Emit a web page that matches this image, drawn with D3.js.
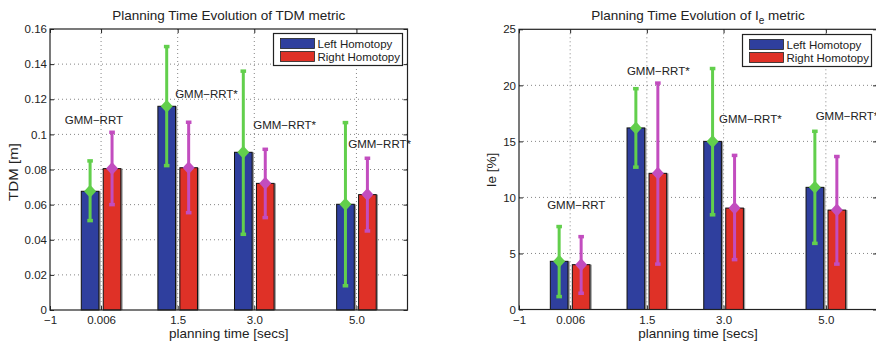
<!DOCTYPE html>
<html>
<head>
<meta charset="utf-8">
<script src="https://cdn.jsdelivr.net/npm/d3@7"></script>
<style>
body { margin: 0; background: #fff; }
text { font-family: "Liberation Sans", Arial, Helvetica, sans-serif; fill: #222; }
</style>
</head>
<body>
<div id="chart"></div>
<script>
var svgWidth = 876;
var svgHeight = 345;

// planning time groups
var groupPos = [0, 1.5, 3, 5];
var xTickVals = [-1, 0, 1.5, 3, 5];
var xTickLabels = ["\u22121", "0.006", "1.5", "3.0", "5.0"];
var seriesNames = ["Left Homotopy", "Right Homotopy"];

// TDM metric [m]
var tdmLeft = [0.0676, 0.116, 0.0898, 0.0602];
var tdmLeftLo = [0.0509, 0.0822, 0.0431, 0.0138];
var tdmLeftHi = [0.0849, 0.150, 0.136, 0.1067];
var tdmRight = [0.0805, 0.081, 0.0721, 0.0657];
var tdmRightLo = [0.060, 0.0554, 0.0526, 0.045];
var tdmRightHi = [0.1012, 0.1069, 0.0915, 0.0864];
var tdmTicks = [0, 0.02, 0.04, 0.06, 0.08, 0.1, 0.12, 0.14, 0.16];

// Ie metric [%]
var ieLeft = [4.3, 16.2, 15.0, 10.9];
var ieLeftLo = [1.15, 12.7, 8.45, 5.9];
var ieLeftHi = [7.4, 19.7, 21.5, 15.9];
var ieRight = [4.0, 12.15, 9.05, 8.87];
var ieRightLo = [1.45, 4.05, 4.45, 4.05];
var ieRightHi = [6.5, 20.2, 13.75, 13.65];
var ieTicks = [0, 5, 10, 15, 20, 25];

// text annotations (data coordinates)
var annoText = ["GMM\u2212RRT", "GMM\u2212RRT*", "GMM\u2212RRT*", "GMM\u2212RRT*"];
var tdmAnnoX = [-0.71, 1.45, 2.98, 4.84];
var tdmAnnoY = [0.106, 0.1205, 0.103, 0.0925];
var ieAnnoX = [-0.45, 1.11, 2.91, 4.80];
var ieAnnoY = [9.0, 20.9, 16.6, 16.9];

var barColors = ["#2f3f9e", "#df3127"];
var errColors = ["#62cf4c", "#c24dbf"];

var svg = d3.select("#chart")
    .append("svg")
    .attr("width", svgWidth)
    .attr("height", svgHeight);

function drawPanel(p) {
    var x = d3.scaleLinear().domain([-1, 6]).range([p.x0, p.x1]);
    var y = d3.scaleLinear().domain([0, p.yTicks[p.yTicks.length - 1]]).range([p.y1, p.y0]);

    var g = svg.append("g");

    // dotted grid
    g.selectAll(".gy")
        .data(p.yTicks.slice(1, -1))
        .enter()
        .append("line")
        .attr("x1", p.x0).attr("x2", p.x1)
        .attr("y1", d => y(d)).attr("y2", d => y(d))
        .attr("stroke", "#666")
        .attr("stroke-width", 0.8)
        .attr("stroke-dasharray", "1,3");

    g.selectAll(".gx")
        .data(groupPos)
        .enter()
        .append("line")
        .attr("x1", d => x(d)).attr("x2", d => x(d))
        .attr("y1", p.y0).attr("y2", p.y1)
        .attr("stroke", "#666")
        .attr("stroke-width", 0.8)
        .attr("stroke-dasharray", "1,3");

    var series = [
        { vals: p.left, lo: p.leftLo, hi: p.leftHi, off: -0.215 },
        { vals: p.right, lo: p.rightLo, hi: p.rightHi, off: 0.215 }
    ];
    var bw = x(0.345) - x(0);

    series.forEach(function (s, si) {
        var bars = g.append("g");
        // grey shadow at right edge
        bars.selectAll(".shadow")
            .data(s.vals)
            .enter()
            .append("rect")
            .attr("x", (d, i) => x(groupPos[i] + s.off) - bw / 2 + 1.8)
            .attr("y", d => y(d))
            .attr("width", bw)
            .attr("height", d => p.y1 - y(d))
            .attr("fill", "#9a9a9a");

        bars.selectAll(".bar")
            .data(s.vals)
            .enter()
            .append("rect")
            .attr("x", (d, i) => x(groupPos[i] + s.off) - bw / 2)
            .attr("y", d => y(d))
            .attr("width", bw)
            .attr("height", d => p.y1 - y(d))
            .attr("fill", barColors[si])
            .attr("stroke", "#111")
            .attr("stroke-width", 1);
    });

    series.forEach(function (s, si) {
        var eg = g.append("g");
        var col = errColors[si];
        eg.selectAll(".err")
            .data(s.vals)
            .enter()
            .append("line")
            .attr("x1", (d, i) => x(groupPos[i] + s.off))
            .attr("x2", (d, i) => x(groupPos[i] + s.off))
            .attr("y1", (d, i) => y(s.lo[i]))
            .attr("y2", (d, i) => y(s.hi[i]))
            .attr("stroke", col)
            .attr("stroke-width", 3);

        ["lo", "hi"].forEach(function (k) {
            eg.selectAll(".cap" + k)
                .data(s[k])
                .enter()
                .append("line")
                .attr("x1", (d, i) => x(groupPos[i] + s.off) - 2.8)
                .attr("x2", (d, i) => x(groupPos[i] + s.off) + 2.8)
                .attr("y1", d => y(d))
                .attr("y2", d => y(d))
                .attr("stroke", col)
                .attr("stroke-width", 3.5);
        });

        eg.selectAll(".dia")
            .data(s.vals)
            .enter()
            .append("path")
            .attr("transform", (d, i) => `translate(${x(groupPos[i] + s.off)},${y(d)})`)
            .attr("d", "M0,-6.5L6,0L0,6.5L-6,0Z")
            .attr("fill", col);
    });

    // annotations
    g.append("g")
        .selectAll("text")
        .data(annoText)
        .enter()
        .append("text")
        .attr("x", (d, i) => x(p.annoX[i]))
        .attr("y", (d, i) => y(p.annoY[i]))
        .attr("font-size", "11.5px")
        .text(d => d);

    // axes with inward ticks
    var bottomAxis = d3.axisBottom(x)
        .tickValues(xTickVals)
        .tickFormat((d, i) => xTickLabels[i])
        .tickSizeInner(-4).tickSizeOuter(0).tickPadding(6);
    var topAxis = d3.axisTop(x)
        .tickValues(xTickVals).tickFormat("")
        .tickSizeInner(-4).tickSizeOuter(0);
    var leftAxis = d3.axisLeft(y)
        .tickValues(p.yTicks)
        .tickFormat(d => String(+d.toFixed(3)))
        .tickSizeInner(-4).tickSizeOuter(0).tickPadding(3);
    var rightAxis = d3.axisRight(y)
        .tickValues(p.yTicks).tickFormat("")
        .tickSizeInner(-4).tickSizeOuter(0);

    [[bottomAxis, `translate(0,${p.y1})`], [topAxis, `translate(0,${p.y0})`],
     [leftAxis, `translate(${p.x0},0)`], [rightAxis, `translate(${p.x1},0)`]].forEach(function (a) {
        var ax = g.append("g")
            .attr("transform", a[1])
            .call(a[0]);
        ax.select(".domain").remove();
        ax.selectAll("line").attr("stroke", "#222");
        ax.selectAll("text")
            .attr("font-family", "Liberation Sans, Arial, sans-serif")
            .attr("font-size", "11.5px")
            .attr("fill", "#222");
    });

    g.append("rect")
        .attr("x", p.x0).attr("y", p.y0)
        .attr("width", p.x1 - p.x0).attr("height", p.y1 - p.y0)
        .attr("fill", "none")
        .attr("stroke", "#222")
        .attr("stroke-width", 1.2);

    // legend
    var lg = g.append("g").attr("transform", `translate(${p.legX},${p.legY})`);
    lg.append("rect")
        .attr("width", 129).attr("height", 32)
        .attr("fill", "#fff")
        .attr("stroke", "#222")
        .attr("stroke-width", 1.2);
    seriesNames.forEach(function (name, i) {
        lg.append("rect")
            .attr("x", 7).attr("y", 5 + i * 13)
            .attr("width", 34).attr("height", 10)
            .attr("fill", barColors[i])
            .attr("stroke", "#222")
            .attr("stroke-width", 0.8);
        lg.append("text")
            .attr("x", 44).attr("y", 14 + i * 13)
            .attr("font-size", "11.5px")
            .text(name);
    });

    // titles
    var cx = (p.x0 + p.x1) / 2;
    var title = g.append("text")
        .attr("x", cx).attr("y", 19.5)
        .attr("text-anchor", "middle")
        .attr("font-size", "13.5px");
    p.title(title);

    g.append("text")
        .attr("x", cx).attr("y", 338)
        .attr("text-anchor", "middle")
        .attr("font-size", "13.5px")
        .text("planning time [secs]");

    var yl = g.append("text")
        .attr("transform", `translate(${p.ylabX},${p.ylabY}) rotate(-90)`)
        .attr("text-anchor", "middle")
        .attr("font-size", "13.5px")
        .text(p.ylabel);
    if (p.ylabLen) {
        yl.attr("textLength", p.ylabLen).attr("lengthAdjust", "spacingAndGlyphs");
    }
}

drawPanel({
    id: 1, x0: 50, x1: 407.5, y0: 29, y1: 310,
    yTicks: tdmTicks,
    left: tdmLeft, leftLo: tdmLeftLo, leftHi: tdmLeftHi,
    right: tdmRight, rightLo: tdmRightLo, rightHi: tdmRightHi,
    annoX: tdmAnnoX, annoY: tdmAnnoY,
    legX: 273.5, legY: 33.5,
    ylabel: "TDM [m]", ylabX: 18, ylabY: 172, ylabLen: 58,
    title: function (t) { t.text("Planning Time Evolution of TDM metric"); }
});

drawPanel({
    id: 2, x0: 519, x1: 877, y0: 29.3, y1: 309.5,
    yTicks: ieTicks,
    left: ieLeft, leftLo: ieLeftLo, leftHi: ieLeftHi,
    right: ieRight, rightLo: ieRightLo, rightHi: ieRightHi,
    annoX: ieAnnoX, annoY: ieAnnoY,
    legX: 742.5, legY: 34.5,
    ylabel: "Ie [%]", ylabX: 496, ylabY: 170,
    title: function (t) {
        t.append("tspan").text("Planning Time Evolution of I");
        t.append("tspan").attr("dy", 4).attr("font-size", "10px").text("e");
        t.append("tspan").attr("dy", -4).text(" metric");
    }
});
</script>
</body>
</html>
